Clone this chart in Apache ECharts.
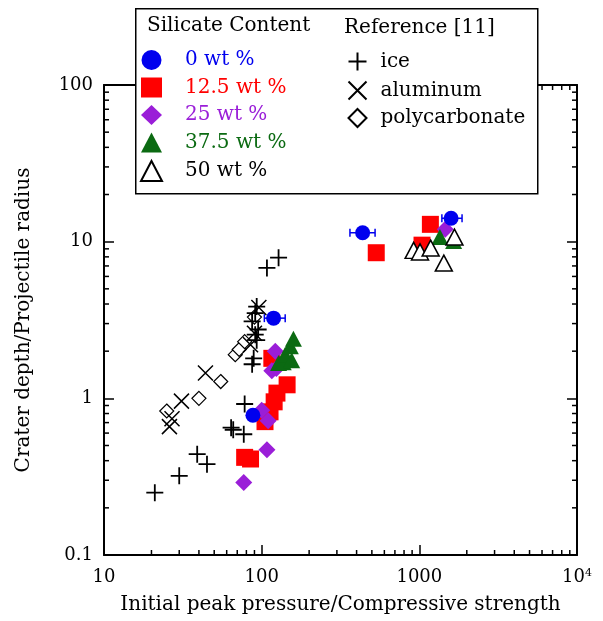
<!DOCTYPE html>
<html lang="en">
<head>
    <meta charset="UTF-8">
    <title>Crater depth</title>
    <script src="https://cdn.jsdelivr.net/npm/echarts@6/dist/echarts.min.js"></script>
</head>
<body style="margin:0;width:603px;height:621px;background:#fff">
    <div id="container" style="width:603px;height:621px"></div>
</body>
<script>
    // silicate content series [pressure ratio, depth ratio]
    var wt0 = [[88, 0.78], [119, 3.25], [437, 11.4], [1590, 14.1]];
    var wt0Err = [[84, 93], [104, 141], [363, 524], [1390, 1866]];
    var wt125 = [[78, 0.42], [85, 0.41], [105, 0.71], [113, 0.82], [120, 0.95], [125, 1.08], [145, 1.22], [116, 1.8], [533, 8.5], [1040, 9.5], [1175, 12.9]];
    var wt25 = [[77, 0.29], [108, 0.47], [100, 0.84], [110, 0.72], [116, 1.5], [124, 1.55], [122, 2.0], [1460, 12.0]];
    var wt375 = [[128, 1.68], [137, 1.7], [141, 1.9], [152, 2.15], [159, 2.4], [155, 1.75], [1350, 10.7], [1650, 10.1]];
    var wt50 = [[920, 8.8], [1010, 8.6], [1180, 9.1], [1430, 7.3], [1670, 10.7]];
    // reference [11]
    var ice = [[21, 0.25], [30, 0.32], [39, 0.44], [45, 0.38], [64, 0.65], [66, 0.63], [77, 0.59], [78, 0.92], [87, 1.65], [89, 1.8], [93, 2.35], [91, 2.55], [95, 2.75], [87, 3.1], [91, 3.5], [93, 3.85], [108, 6.8], [128, 7.9]];
    var aluminum = [[26, 0.66], [27, 0.74], [31, 0.96], [44, 1.45], [85, 2.2], [90, 2.6], [96, 3.8]];
    var polycarbonate = [[25, 0.83], [40, 1.0], [55, 1.28], [68, 1.9], [72, 2.05], [78, 2.3], [90, 3.3]];

    var xTicks = ['10', '100', '1000', '10^4'];
    var yTicks = ['0.1', '1', '10', '100'];
    var minorSteps = [2, 3, 4, 5, 6, 7, 8, 9];

    var FONT = 'DejaVu Serif';

    var xMinor = [], yMinor = [];
    [10, 100, 1000].forEach(function (d) {
        minorSteps.forEach(function (m) { xMinor.push([d * m, 0.1]); });
    });
    [0.1, 1, 10].forEach(function (d) {
        minorSteps.forEach(function (m) { yMinor.push([10, +(d * m).toFixed(3)]); });
    });

    var errData = wt0.map(function (p, i) { return [p[0], p[1], wt0Err[i][0], wt0Err[i][1]]; });

    var plusPath = 'path://M0,5L10,5M5,0L5,10';
    var crossPath = 'path://M0,0L10,10M10,0L0,10';

    var dom = document.getElementById('container');
    var myChart = echarts.init(dom);

    function axisCommon(show) {
        return {
            type: 'log',
            logBase: 10,
            axisLine: {show: true, lineStyle: {color: '#000', width: 2}},
            axisTick: {show: true, inside: true, length: 10, lineStyle: {color: '#000', width: 1.5}},
            splitLine: {show: false},
            axisLabel: {show: show}
        };
    }

    var xBottom = axisCommon(true);
    xBottom.min = 10; xBottom.max = 10000; xBottom.position = 'bottom';
    xBottom.name = 'Initial peak pressure/Compressive strength';
    xBottom.nameLocation = 'middle';
    xBottom.nameGap = 40;
    xBottom.nameTextStyle = {fontFamily: FONT, fontSize: 20, color: '#000'};
    xBottom.axisLabel = {
        show: true, margin: 13, color: '#000', fontFamily: FONT, fontSize: 18,
        formatter: function (v) {
            var i = Math.round(Math.log10(v)) - 1;
            var t = xTicks[i];
            if (t === '10^4') return '{b|10}{s|4}';
            return t;
        },
        rich: {
            b: {fontFamily: FONT, fontSize: 18, color: '#000'},
            s: {fontFamily: FONT, fontSize: 11, color: '#000', verticalAlign: 'top', padding: [0, 0, 8, 0]}
        }
    };
    var xTop = axisCommon(false);
    xTop.min = 10; xTop.max = 10000; xTop.position = 'top';

    var yLeft = axisCommon(true);
    yLeft.min = 0.1; yLeft.max = 100; yLeft.position = 'left';
    yLeft.name = 'Crater depth/Projectile radius';
    yLeft.nameLocation = 'middle';
    yLeft.nameGap = 70;
    yLeft.nameTextStyle = {fontFamily: FONT, fontSize: 20, color: '#000'};
    yLeft.axisLabel = {
        show: true, margin: 11, color: '#000', fontFamily: FONT, fontSize: 18,
        formatter: function (v) {
            var i = Math.round(Math.log10(v)) + 1;
            return yTicks[i];
        }
    };
    var yRight = axisCommon(false);
    yRight.min = 0.1; yRight.max = 100; yRight.position = 'right';

    function minorTicksX(params, api) {
        var x = api.coord([api.value(0), 1])[0];
        var yb = api.coord([10, 0.1])[1];
        var yt = api.coord([10, 100])[1];
        var st = {stroke: '#000', lineWidth: 1.5};
        return {type: 'group', children: [
            {type: 'line', shape: {x1: x, y1: yb, x2: x, y2: yb - 5}, style: st},
            {type: 'line', shape: {x1: x, y1: yt, x2: x, y2: yt + 5}, style: st}
        ]};
    }
    function minorTicksY(params, api) {
        var y = api.coord([10, api.value(1)])[1];
        var xl = api.coord([10, 1])[0];
        var xr = api.coord([10000, 1])[0];
        var st = {stroke: '#000', lineWidth: 1.5};
        return {type: 'group', children: [
            {type: 'line', shape: {x1: xl, y1: y, x2: xl + 5, y2: y}, style: st},
            {type: 'line', shape: {x1: xr, y1: y, x2: xr - 5, y2: y}, style: st}
        ]};
    }
    function errorBars(params, api) {
        var y = api.coord([api.value(0), api.value(1)])[1];
        var x1 = api.coord([api.value(2), 1])[0];
        var x2 = api.coord([api.value(3), 1])[0];
        var st = {stroke: '#0000ee', lineWidth: 1.5};
        return {type: 'group', children: [
            {type: 'line', shape: {x1: x1, y1: y, x2: x2, y2: y}, style: st},
            {type: 'line', shape: {x1: x1, y1: y - 4, x2: x1, y2: y + 4}, style: st},
            {type: 'line', shape: {x1: x2, y1: y - 4, x2: x2, y2: y + 4}, style: st}
        ]};
    }

    option = {
        animation: false,
        backgroundColor: '#fff',
        grid: {left: 104, right: 26, top: 85, bottom: 66},
        xAxis: [xBottom, xTop],
        yAxis: [yLeft, yRight],
        legend: [{
            orient: 'vertical', left: 140, top: 50, padding: 0,
            itemWidth: 21, itemHeight: 20, itemGap: 7.5,
            textStyle: {fontFamily: FONT, fontSize: 20, padding: [0, 0, 0, 18]}, z: 20,
            data: [
                {name: '0 wt %', textStyle: {color: '#0000ee'}},
                {name: '12.5 wt %', textStyle: {color: '#ff0000'}},
                {name: '25 wt %', textStyle: {color: '#9a1ed8'}},
                {name: '37.5 wt %', textStyle: {color: '#0b6a12'}},
                {name: '50 wt %', textStyle: {color: '#000'}}
            ]
        }, {
            orient: 'vertical', left: 346, top: 50, padding: 0,
            itemWidth: 18, itemHeight: 18, itemGap: 6,
            textStyle: {fontFamily: FONT, fontSize: 20, color: '#000', padding: [0, 0, 0, 9]}, z: 20,
            data: ['ice', 'aluminum', 'polycarbonate']
        }],
        graphic: [
            {type: 'rect', left: 135, top: 8, z: 10,
                shape: {width: 402, height: 185},
                style: {fill: '#fff', stroke: '#000', lineWidth: 1.5}},
            {type: 'text', left: 147, top: 16, z: 11,
                style: {text: 'Silicate Content', font: '20px "DejaVu Serif"', fill: '#000'}},
            {type: 'text', left: 344, top: 18, z: 11,
                style: {text: 'Reference [11]', font: '20px "DejaVu Serif"', fill: '#000'}}
        ],
        series: [
            {type: 'custom', name: 'xminor', renderItem: minorTicksX, data: xMinor, clip: false, silent: true},
            {type: 'custom', name: 'yminor', renderItem: minorTicksY, data: yMinor, clip: false, silent: true},
            {type: 'scatter', name: 'polycarbonate', data: polycarbonate, symbol: 'diamond', symbolSize: 14,
                itemStyle: {color: '#fff', borderColor: '#000', borderWidth: 1.2, opacity: 1}},
            {type: 'scatter', name: 'aluminum', data: aluminum, symbol: crossPath, symbolSize: 15,
                itemStyle: {color: 'none', borderColor: '#000', borderWidth: 1.5, opacity: 1}},
            {type: 'scatter', name: 'ice', data: ice, symbol: plusPath, symbolSize: 17,
                itemStyle: {color: 'none', borderColor: '#000', borderWidth: 1.8, opacity: 1}},
            {type: 'scatter', name: '12.5 wt %', data: wt125, symbol: 'rect', symbolSize: 17,
                itemStyle: {color: '#ff0000', opacity: 1}},
            {type: 'scatter', name: '25 wt %', data: wt25, symbol: 'diamond', symbolSize: 17,
                itemStyle: {color: '#9a1ed8', opacity: 1}},
            {type: 'scatter', name: '37.5 wt %', data: wt375, symbol: 'triangle', symbolSize: [17, 16],
                itemStyle: {color: '#0b6a12', opacity: 1}},
            {type: 'custom', name: '0 wt % err', renderItem: errorBars, data: errData, clip: false, silent: true},
            {type: 'scatter', name: '0 wt %', data: wt0, symbol: 'circle', symbolSize: 15,
                itemStyle: {color: '#0000ee', opacity: 1}},
            {type: 'scatter', name: '50 wt %', data: wt50, symbol: 'triangle', symbolSize: [17, 16],
                itemStyle: {color: '#fff', borderColor: '#000', borderWidth: 1.5, opacity: 1}}
        ]
    };
    if (option && typeof option === "object") {
        myChart.setOption(option, true);
    }
</script>
</html>
